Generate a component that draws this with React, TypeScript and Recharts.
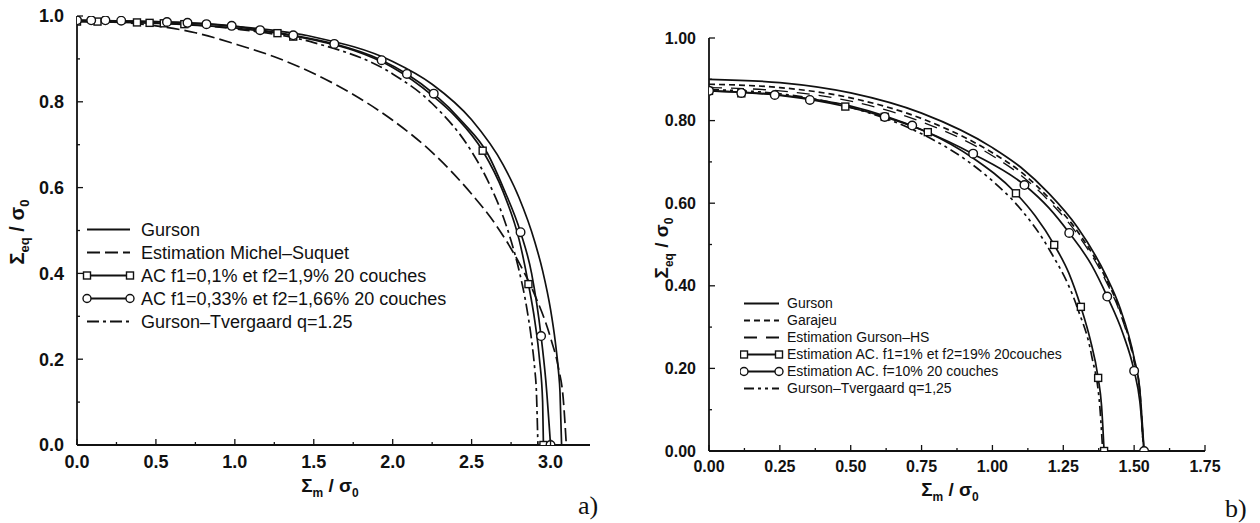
import React from "react";
import { ComposedChart, Line, Scatter, XAxis, YAxis, Legend } from "recharts";

type Pt = { x: number; y: number };

// ---------- panel a) ----------
const gursonA: Pt[] = [
  { x: 0, y: 0.99 }, { x: 0.5, y: 0.987 }, { x: 1.0, y: 0.976 }, { x: 1.5, y: 0.951 },
  { x: 2.0, y: 0.894 }, { x: 2.25, y: 0.841 }, { x: 2.5, y: 0.758 }, { x: 2.7, y: 0.653 },
  { x: 2.8, y: 0.577 }, { x: 2.9, y: 0.474 }, { x: 2.95, y: 0.406 }, { x: 3.0, y: 0.316 },
  { x: 3.03, y: 0.241 }, { x: 3.05, y: 0.173 }, { x: 3.06, y: 0.123 }, { x: 3.07, y: 0 },
];
const michelSuquetA: Pt[] = [
  { x: 0, y: 0.99 }, { x: 0.25, y: 0.986 }, { x: 0.5, y: 0.977 }, { x: 0.75, y: 0.961 },
  { x: 1.0, y: 0.935 }, { x: 1.25, y: 0.905 }, { x: 1.5, y: 0.866 }, { x: 1.75, y: 0.817 },
  { x: 2.0, y: 0.757 }, { x: 2.25, y: 0.682 }, { x: 2.5, y: 0.585 }, { x: 2.65, y: 0.515 },
  { x: 2.8, y: 0.425 }, { x: 2.9, y: 0.35 }, { x: 3.0, y: 0.25 }, { x: 3.05, y: 0.18 },
  { x: 3.08, y: 0.11 }, { x: 3.1, y: 0 },
];
const acSquareA: Pt[] = [
  { x: 0, y: 0.987 }, { x: 0.5, y: 0.983 }, { x: 1.0, y: 0.972 }, { x: 1.27, y: 0.96 },
  { x: 1.5, y: 0.944 }, { x: 1.75, y: 0.92 }, { x: 2.0, y: 0.88 }, { x: 2.25, y: 0.815 },
  { x: 2.4, y: 0.765 }, { x: 2.57, y: 0.686 }, { x: 2.7, y: 0.59 }, { x: 2.8, y: 0.48 },
  { x: 2.86, y: 0.375 }, { x: 2.9, y: 0.29 }, { x: 2.93, y: 0.2 }, { x: 2.95, y: 0.1 },
  { x: 2.955, y: 0 },
];
const acCircleA: Pt[] = [
  { x: 0, y: 0.99 }, { x: 0.57, y: 0.986 }, { x: 0.98, y: 0.977 }, { x: 1.16, y: 0.967 },
  { x: 1.37, y: 0.955 }, { x: 1.63, y: 0.935 }, { x: 1.93, y: 0.897 }, { x: 2.09, y: 0.865 },
  { x: 2.26, y: 0.819 }, { x: 2.45, y: 0.75 }, { x: 2.6, y: 0.68 }, { x: 2.7, y: 0.6 },
  { x: 2.81, y: 0.496 }, { x: 2.88, y: 0.4 }, { x: 2.94, y: 0.254 }, { x: 2.97, y: 0.15 },
  { x: 3.0, y: 0 },
];
const tvergaardA: Pt[] = [
  { x: 0, y: 0.9875 }, { x: 0.5, y: 0.984 }, { x: 1.0, y: 0.97 }, { x: 1.5, y: 0.938 },
  { x: 2.0, y: 0.865 }, { x: 2.25, y: 0.796 }, { x: 2.5, y: 0.684 }, { x: 2.6, y: 0.618 },
  { x: 2.7, y: 0.532 }, { x: 2.75, y: 0.476 }, { x: 2.8, y: 0.408 }, { x: 2.85, y: 0.318 },
  { x: 2.88, y: 0.244 }, { x: 2.9, y: 0.177 }, { x: 2.91, y: 0.128 }, { x: 2.92, y: 0 },
];
const acSquareMarksA: Pt[] = [
  { x: 0.0, y: 0.987 }, { x: 0.13, y: 0.987 }, { x: 0.38, y: 0.985 }, { x: 0.46, y: 0.984 },
  { x: 0.55, y: 0.983 }, { x: 0.68, y: 0.981 }, { x: 1.27, y: 0.96 }, { x: 1.37, y: 0.952 },
  { x: 2.57, y: 0.686 }, { x: 2.86, y: 0.375 }, { x: 2.955, y: 0 },
];
const acCircleMarksA: Pt[] = [
  { x: 0.0, y: 0.99 }, { x: 0.09, y: 0.99 }, { x: 0.18, y: 0.99 }, { x: 0.28, y: 0.989 },
  { x: 0.57, y: 0.986 }, { x: 0.7, y: 0.984 }, { x: 0.82, y: 0.981 }, { x: 0.98, y: 0.977 },
  { x: 1.16, y: 0.967 }, { x: 1.37, y: 0.955 }, { x: 1.63, y: 0.935 }, { x: 1.93, y: 0.897 },
  { x: 2.09, y: 0.865 }, { x: 2.26, y: 0.819 }, { x: 2.81, y: 0.496 }, { x: 2.94, y: 0.254 },
  { x: 3.0, y: 0 },
];
const xTicksA = [0, 0.25, 0.5, 0.75, 1, 1.25, 1.5, 1.75, 2, 2.25, 2.5, 2.75, 3];
const yTicksA = [0, 0.1, 0.2, 0.3, 0.4, 0.5, 0.6, 0.7, 0.8, 0.9, 1];

// ---------- panel b) ----------
const gursonB: Pt[] = [
  { x: 0, y: 0.9 }, { x: 0.25, y: 0.892 }, { x: 0.5, y: 0.867 }, { x: 0.75, y: 0.818 },
  { x: 1.0, y: 0.7345 }, { x: 1.1, y: 0.687 }, { x: 1.2, y: 0.623 }, { x: 1.3, y: 0.5416 },
  { x: 1.4, y: 0.4256 }, { x: 1.45, y: 0.3465 }, { x: 1.5, y: 0.225 }, { x: 1.52, y: 0.148 },
  { x: 1.535, y: 0 },
];
const garajeuB: Pt[] = [
  { x: 0, y: 0.888 }, { x: 0.25, y: 0.88 }, { x: 0.5, y: 0.855 }, { x: 0.75, y: 0.805 },
  { x: 1.0, y: 0.722 }, { x: 1.1, y: 0.676 }, { x: 1.2, y: 0.612 }, { x: 1.3, y: 0.532 },
  { x: 1.4, y: 0.418 }, { x: 1.45, y: 0.34 }, { x: 1.5, y: 0.22 }, { x: 1.52, y: 0.145 },
  { x: 1.533, y: 0 },
];
const gursonHsB: Pt[] = [
  { x: 0, y: 0.88 }, { x: 0.25, y: 0.872 }, { x: 0.5, y: 0.847 }, { x: 0.75, y: 0.797 },
  { x: 1.0, y: 0.715 }, { x: 1.1, y: 0.668 }, { x: 1.2, y: 0.605 }, { x: 1.3, y: 0.525 },
  { x: 1.4, y: 0.412 }, { x: 1.45, y: 0.335 }, { x: 1.5, y: 0.215 }, { x: 1.52, y: 0.14 },
  { x: 1.532, y: 0 },
];
const acSquareB: Pt[] = [
  { x: 0, y: 0.872 }, { x: 0.25, y: 0.861 }, { x: 0.49, y: 0.833 }, { x: 0.62, y: 0.809 },
  { x: 0.77, y: 0.772 }, { x: 0.93, y: 0.71 }, { x: 1.083, y: 0.624 }, { x: 1.15, y: 0.57 },
  { x: 1.218, y: 0.499 }, { x: 1.27, y: 0.43 }, { x: 1.312, y: 0.349 }, { x: 1.345, y: 0.27 },
  { x: 1.373, y: 0.177 }, { x: 1.385, y: 0.11 }, { x: 1.394, y: 0 },
];
const acCircleB: Pt[] = [
  { x: 0, y: 0.872 }, { x: 0.25, y: 0.862 }, { x: 0.5, y: 0.835 }, { x: 0.75, y: 0.778 },
  { x: 0.93, y: 0.72 }, { x: 1.113, y: 0.644 }, { x: 1.2, y: 0.588 }, { x: 1.271, y: 0.528 },
  { x: 1.35, y: 0.45 }, { x: 1.405, y: 0.374 }, { x: 1.46, y: 0.285 }, { x: 1.5, y: 0.194 },
  { x: 1.52, y: 0.12 }, { x: 1.535, y: 0 },
];
const tvergaardB: Pt[] = [
  { x: 0, y: 0.875 }, { x: 0.25, y: 0.865 }, { x: 0.5, y: 0.832 }, { x: 0.75, y: 0.768 },
  { x: 0.9, y: 0.708 }, { x: 1.0, y: 0.654 }, { x: 1.1, y: 0.5855 }, { x: 1.2, y: 0.4886 },
  { x: 1.3, y: 0.346 }, { x: 1.35, y: 0.231 }, { x: 1.38, y: 0.098 }, { x: 1.389, y: 0 },
];
const acSquareMarksB: Pt[] = [
  { x: 0, y: 0.872 }, { x: 0.114, y: 0.866 }, { x: 0.481, y: 0.834 }, { x: 0.62, y: 0.809 },
  { x: 0.772, y: 0.772 }, { x: 1.083, y: 0.624 }, { x: 1.218, y: 0.499 }, { x: 1.312, y: 0.349 },
  { x: 1.373, y: 0.177 }, { x: 1.394, y: 0 },
];
const acCircleMarksB: Pt[] = [
  { x: 0, y: 0.872 }, { x: 0.114, y: 0.867 }, { x: 0.232, y: 0.862 }, { x: 0.356, y: 0.85 },
  { x: 0.62, y: 0.809 }, { x: 0.717, y: 0.788 }, { x: 0.932, y: 0.72 }, { x: 1.113, y: 0.644 },
  { x: 1.271, y: 0.528 }, { x: 1.405, y: 0.374 }, { x: 1.5, y: 0.194 }, { x: 1.535, y: 0 },
];
const xTicksB = [0, 0.125, 0.25, 0.375, 0.5, 0.625, 0.75, 0.875, 1, 1.125, 1.25, 1.375, 1.5, 1.625, 1.75];
const yTicksB = [0, 0.1, 0.2, 0.3, 0.4, 0.5, 0.6, 0.7, 0.8, 0.9, 1];

const legendA = [
  { label: "Gurson", dash: "" },
  { label: "Estimation Michel–Suquet", dash: "13 5" },
  { label: "AC f1=0,1% et f2=1,9% 20 couches", dash: "", marker: "square" },
  { label: "AC f1=0,33% et f2=1,66% 20 couches", dash: "", marker: "circle" },
  { label: "Gurson–Tvergaard q=1.25", dash: "12 4 3 4" },
];
const legendB = [
  { label: "Gurson", dash: "" },
  { label: "Garajeu", dash: "6 4" },
  { label: "Estimation Gurson–HS", dash: "13 9" },
  { label: "Estimation AC. f1=1% et f2=19% 20couches", dash: "", marker: "square" },
  { label: "Estimation AC. f=10% 20 couches", dash: "", marker: "circle" },
  { label: "Gurson–Tvergaard q=1,25", dash: "10 4 3 4 3 4" },
];

const INK = "#111";
const SANS = "'Liberation Sans', Arial, sans-serif";

const isMultiple = (v: number, step: number) => Math.abs(v / step - Math.round(v / step)) < 1e-6;

const makeTick = (side: string, step: number, digits: number, fontSize: number) => (props: any) => {
  const { x, y, payload } = props;
  const v = payload.value as number;
  const major = isMultiple(v, step);
  const len = major ? 6 : 3;
  let line;
  if (side === "bottom") line = <line x1={x} y1={y} x2={x} y2={y - len} stroke={INK} strokeWidth={1.3} />;
  else if (side === "top") line = <line x1={x} y1={y} x2={x} y2={y + len} stroke={INK} strokeWidth={1.3} />;
  else if (side === "left") line = <line x1={x} y1={y} x2={x + len} y2={y} stroke={INK} strokeWidth={1.3} />;
  else line = <line x1={x} y1={y} x2={x - len} y2={y} stroke={INK} strokeWidth={1.3} />;
  let label = null;
  if (major && side === "bottom")
    label = (
      <text x={x} y={y + fontSize + 5} textAnchor="middle" fontFamily={SANS} fontWeight="bold" fontSize={fontSize} fill={INK}>
        {v.toFixed(digits)}
      </text>
    );
  if (major && side === "left")
    label = (
      <text x={x - 13} y={y} dy="0.35em" textAnchor="end" fontFamily={SANS} fontWeight="bold" fontSize={fontSize} fill={INK}>
        {v.toFixed(digits)}
      </text>
    );
  return (
    <g>
      {line}
      {label}
    </g>
  );
};

const squareShape = (size: number) => (p: any) => (
  <rect x={p.cx - size / 2} y={p.cy - size / 2} width={size} height={size} fill="#fff" stroke={INK} strokeWidth={1.4} />
);
const circleShape = (r: number) => (p: any) => (
  <circle cx={p.cx} cy={p.cy} r={r} fill="#fff" stroke={INK} strokeWidth={1.4} />
);

const makeLegend = (rows: any[], lineX0: number, lineX1: number, textX: number, rowH: number, fontSize: number, w: number) => () => (
  <svg width={w} height={rows.length * rowH + 10}>
    {rows.map((r, i) => {
      const cy = rowH / 2 + i * rowH;
      return (
        <g key={r.label}>
          <line x1={lineX0} y1={cy} x2={lineX1} y2={cy} stroke={INK} strokeWidth={1.8} strokeDasharray={r.dash || undefined} />
          {r.marker === "square" &&
            [lineX0, lineX1].map((mx) => (
              <rect key={mx} x={mx - 3.5} y={cy - 3.5} width={7} height={7} fill="#fff" stroke={INK} strokeWidth={1.4} />
            ))}
          {r.marker === "circle" &&
            [lineX0, lineX1].map((mx) => <circle key={mx} cx={mx} cy={cy} r={4} fill="#fff" stroke={INK} strokeWidth={1.4} />)}
          <text x={textX} y={cy} dy="0.35em" fontFamily={SANS} fontSize={fontSize} fill={INK}>
            {r.label}
          </text>
        </g>
      );
    })}
  </svg>
);

const lineProps = { type: "monotone" as const, dataKey: "y", dot: false, stroke: INK, strokeWidth: 1.7, isAnimationActive: false, legendType: "none" as const };

export default function App() {
  return (
    <div style={{ position: "absolute", left: 0, top: 0, width: 1260, height: 523, background: "#fff" }}>
      <div style={{ position: "absolute", left: 0, top: 0 }}>
        <ComposedChart width={620} height={523} margin={{ top: 16, right: 30, bottom: 38, left: 0 }}>
          <XAxis xAxisId="b" dataKey="x" type="number" domain={[0, 3.25]} ticks={xTicksA} interval={0} allowDataOverflow
            height={40} tickSize={0} tickMargin={0} axisLine={{ stroke: INK, strokeWidth: 1.8 }} tickLine={false} tick={makeTick("bottom", 0.5, 1, 18)} />
          <XAxis xAxisId="t" orientation="top" dataKey="x" type="number" domain={[0, 3.25]} ticks={xTicksA} interval={0} allowDataOverflow
            height={0} tickSize={0} tickMargin={0} axisLine={{ stroke: INK, strokeWidth: 1.8 }} tickLine={false} tick={makeTick("top", 0.5, 1, 18)} />
          <YAxis yAxisId="l" type="number" domain={[0, 1]} ticks={yTicksA} interval={0} allowDataOverflow
            width={77} tickSize={0} tickMargin={0} axisLine={{ stroke: INK, strokeWidth: 1.8 }} tickLine={false} tick={makeTick("left", 0.2, 1, 18)} />
          <YAxis yAxisId="r" orientation="right" type="number" domain={[0, 1]} ticks={yTicksA} interval={0} allowDataOverflow
            width={0} tickSize={0} tickMargin={0} axisLine={{ stroke: INK, strokeWidth: 1.8 }} tickLine={false} tick={makeTick("right", 0.2, 1, 18)} />
          <Line xAxisId="b" yAxisId="l" data={gursonA} {...lineProps} />
          <Line xAxisId="b" yAxisId="l" data={michelSuquetA} {...lineProps} strokeDasharray="13 5" />
          <Line xAxisId="b" yAxisId="l" data={acSquareA} {...lineProps} />
          <Line xAxisId="b" yAxisId="l" data={acCircleA} {...lineProps} />
          <Line xAxisId="b" yAxisId="l" data={tvergaardA} {...lineProps} strokeDasharray="12 4 3 4" />
          <Scatter xAxisId="b" yAxisId="l" data={acSquareMarksA} dataKey="y" shape={squareShape(7)} isAnimationActive={false} legendType="none" />
          <Scatter xAxisId="b" yAxisId="l" data={acCircleMarksA} dataKey="y" shape={circleShape(4.3)} isAnimationActive={false} legendType="none" />
          <Legend layout="vertical" align="center" verticalAlign="middle"
            wrapperStyle={{ left: 80, top: 218, width: 420, height: 120 }}
            content={makeLegend(legendA, 7, 50, 61, 23, 18, 420)} />
        </ComposedChart>
      </div>
      <div style={{ position: "absolute", left: 640, top: 0 }}>
        <ComposedChart width={620} height={523} margin={{ top: 38, right: 55, bottom: 32, left: 0 }}>
          <XAxis xAxisId="b" dataKey="x" type="number" domain={[0, 1.75]} ticks={xTicksB} interval={0} allowDataOverflow
            height={40} tickSize={0} tickMargin={0} axisLine={{ stroke: INK, strokeWidth: 1.8 }} tickLine={false} tick={makeTick("bottom", 0.25, 2, 16)} />
          <XAxis xAxisId="t" orientation="top" dataKey="x" type="number" domain={[0, 1.75]} ticks={xTicksB} interval={0} allowDataOverflow
            height={0} tickSize={0} tickMargin={0} axisLine={{ stroke: INK, strokeWidth: 1.8 }} tickLine={false} tick={makeTick("top", 0.25, 2, 16)} />
          <YAxis yAxisId="l" type="number" domain={[0, 1]} ticks={yTicksB} interval={0} allowDataOverflow
            width={69} tickSize={0} tickMargin={0} axisLine={{ stroke: INK, strokeWidth: 1.8 }} tickLine={false} tick={makeTick("left", 0.2, 2, 16)} />
          <YAxis yAxisId="r" orientation="right" type="number" domain={[0, 1]} ticks={yTicksB} interval={0} allowDataOverflow
            width={0} tickSize={0} tickMargin={0} axisLine={{ stroke: INK, strokeWidth: 1.8 }} tickLine={false} tick={makeTick("right", 0.2, 2, 16)} />
          <Line xAxisId="b" yAxisId="l" data={gursonB} {...lineProps} />
          <Line xAxisId="b" yAxisId="l" data={garajeuB} {...lineProps} strokeDasharray="6 4" />
          <Line xAxisId="b" yAxisId="l" data={gursonHsB} {...lineProps} strokeDasharray="13 9" strokeWidth={1.3} />
          <Line xAxisId="b" yAxisId="l" data={acSquareB} {...lineProps} />
          <Line xAxisId="b" yAxisId="l" data={acCircleB} {...lineProps} />
          <Line xAxisId="b" yAxisId="l" data={tvergaardB} {...lineProps} strokeDasharray="10 4 3 4 3 4" />
          <Scatter xAxisId="b" yAxisId="l" data={acSquareMarksB} dataKey="y" shape={squareShape(7)} isAnimationActive={false} legendType="none" />
          <Scatter xAxisId="b" yAxisId="l" data={acCircleMarksB} dataKey="y" shape={circleShape(4.3)} isAnimationActive={false} legendType="none" />
          <Legend layout="vertical" align="center" verticalAlign="middle"
            wrapperStyle={{ left: 100, top: 295, width: 380, height: 110 }}
            content={makeLegend(legendB, 4, 39, 47, 17, 14, 380)} />
        </ComposedChart>
      </div>
      <svg width={1260} height={523} style={{ position: "absolute", left: 0, top: 0, pointerEvents: "none" }}>
        <g fontFamily={SANS} fontWeight="bold" fill={INK}>
          <text transform="translate(24,232) rotate(-90)" textAnchor="middle" fontSize={20}>
            Σ<tspan dy={5} fontSize={13}>eq</tspan>
            <tspan dy={-5}> / σ</tspan>
            <tspan dy={5} fontSize={13}>0</tspan>
          </text>
          <text x={330} y={492} textAnchor="middle" fontSize={19}>
            Σ<tspan dy={5} fontSize={12}>m</tspan>
            <tspan dy={-5}> / σ</tspan>
            <tspan dy={5} fontSize={12}>0</tspan>
          </text>
          <text transform="translate(668,248) rotate(-90)" textAnchor="middle" fontSize={19}>
            Σ<tspan dy={5} fontSize={12}>eq</tspan>
            <tspan dy={-5}> / σ</tspan>
            <tspan dy={5} fontSize={12}>0</tspan>
          </text>
          <text x={950} y={496} textAnchor="middle" fontSize={19}>
            Σ<tspan dy={5} fontSize={12}>m</tspan>
            <tspan dy={-5}> / σ</tspan>
            <tspan dy={5} fontSize={12}>0</tspan>
          </text>
        </g>
        <g fontFamily="'Liberation Serif', 'DejaVu Serif', serif" fill={INK} fontSize={26}>
          <text x={578} y={514}>a)</text>
          <text x={1225} y={517}>b)</text>
        </g>
      </svg>
    </div>
  );
}
